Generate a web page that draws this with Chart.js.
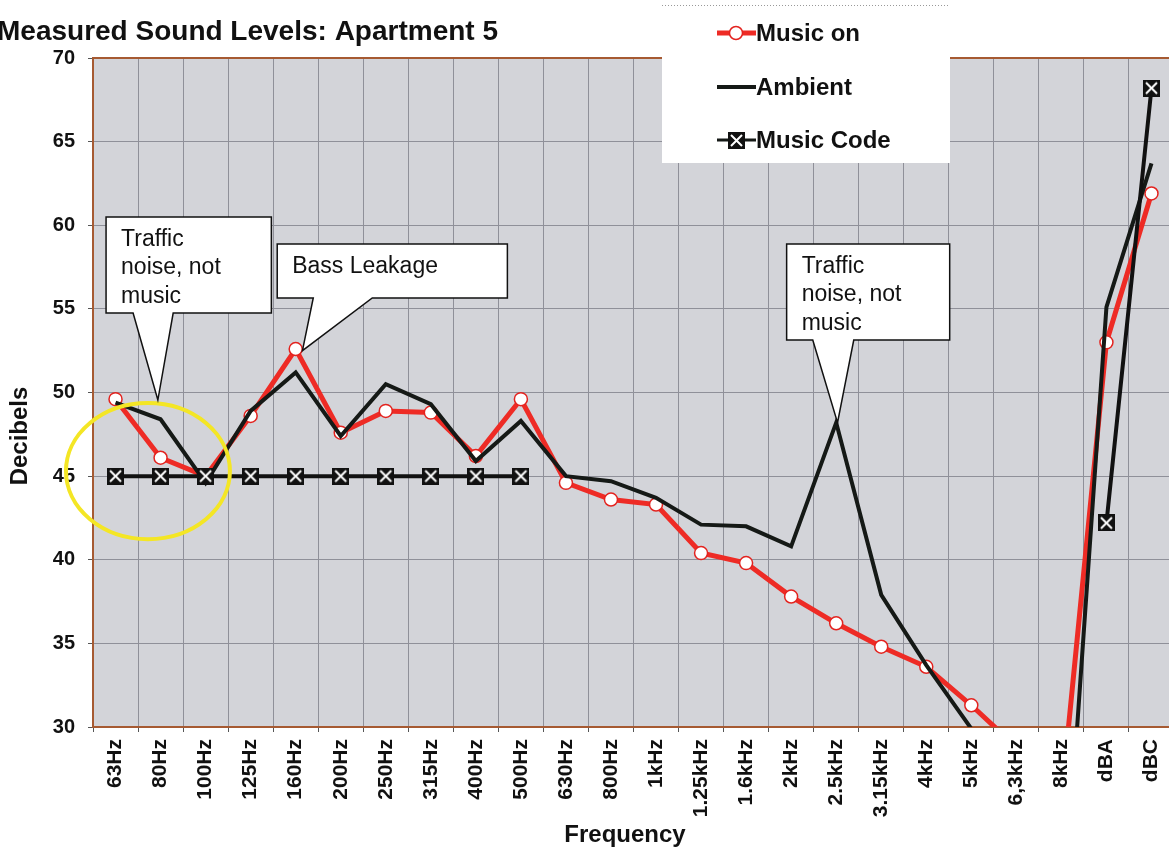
<!DOCTYPE html>
<html>
<head>
<meta charset="utf-8">
<title>Measured Sound Levels: Apartment 5</title>
<script src="https://cdn.jsdelivr.net/npm/chart.js@4.4.1/dist/chart.umd.min.js"></script>
<style>
  html, body { margin: 0; padding: 0; background: #fff; overflow: hidden; }
  #wrap { width: 1186px; height: 849px; }
</style>
</head>
<body>
<div id="wrap"><canvas id="chart" width="1186" height="849"></canvas></div>
<script>
// Data (dB)
const frequencies = ['63Hz', '80Hz', '100Hz', '125Hz', '160Hz', '200Hz', '250Hz', '315Hz', '400Hz', '500Hz',
  '630Hz', '800Hz', '1kHz', '1.25kHz', '1.6kHz', '2kHz', '2.5kHz', '3.15kHz', '4kHz', '5kHz', '6,3kHz', '8kHz', 'dBA', 'dBC'];
const musicOn = [49.6, 46.1, 45.0, 48.6, 52.6, 47.6, 48.9, 48.8, 46.2, 49.6,
  44.6, 43.6, 43.3, 40.4, 39.8, 37.8, 36.2, 34.8, 33.6, 31.3, 28.8, 25.7, 53.0, 61.9];
const ambient = [49.4, 48.4, 44.6, 48.9, 51.2, 47.4, 50.5, 49.3, 45.9, 48.3,
  45.0, 44.7, 43.7, 42.1, 42.0, 40.8, 48.2, 37.9, 33.7, 29.9, 24.0, 16.5, 55.1, 63.7];
const musicCode = [45, 45, 45, 45, 45, 45, 45, 45, 45, 45,
  null, null, null, null, null, null, null, null, null, null, null, null, 42.2, 68.2];
const yTicks = [30, 35, 40, 45, 50, 55, 60, 65, 70];

const FONT = '"Liberation Sans", Arial, sans-serif';

// callouts, in (category index, dB) units
const callouts = [
  { lines: ['Traffic', 'noise, not', 'music'], box: [-0.21, 60.5, 3.46, 54.75], base: [0.39, 1.28], tip: [0.94, 49.55] },
  { lines: ['Bass Leakage'], box: [3.59, 58.88, 8.7, 55.65], base: [4.39, 5.7], tip: [4.15, 52.5] },
  { lines: ['Traffic', 'noise, not', 'music'], box: [14.9, 58.88, 18.52, 53.14], base: [15.48, 16.39], tip: [16.03, 48.2] }
];

// black square with white cross for the Music Code series
function makeCodeMarker(size) {
  const c = document.createElement('canvas');
  c.width = size; c.height = size;
  const g = c.getContext('2d');
  g.fillStyle = '#111';
  g.fillRect(0, 0, size, size);
  g.strokeStyle = '#fff';
  g.lineWidth = 2;
  g.beginPath();
  g.moveTo(3, 3); g.lineTo(size - 3, size - 3);
  g.moveTo(size - 3, 3); g.lineTo(3, size - 3);
  g.stroke();
  return c;
}
const codeMarker = makeCodeMarker(17);

const decorations = {
  id: 'decorations',
  beforeDraw(chart) {
    const { ctx, chartArea: a } = chart;
    ctx.save();
    ctx.fillStyle = '#d3d4d9';
    ctx.fillRect(a.left, a.top, a.right - a.left, a.bottom - a.top);
    ctx.restore();
  },
  beforeDatasetsDraw(chart) {
    const { ctx, chartArea: a } = chart;
    ctx.save();
    ctx.strokeStyle = '#a65a32';
    ctx.lineWidth = 2;
    ctx.strokeRect(a.left, a.top, a.right - a.left, a.bottom - a.top);
    ctx.restore();
  },
  afterDatasetsDraw(chart) {
    const { ctx } = chart;
    const xs = chart.scales.x, ys = chart.scales.y;
    const px = v => xs.getPixelForValue(v);
    const py = v => ys.getPixelForValue(v);

    // yellow ring around the low end
    ctx.save();
    const cx = px(0.72), cy = py(45.3);
    ctx.strokeStyle = '#f4e625';
    ctx.lineWidth = 4;
    ctx.beginPath();
    ctx.ellipse(cx, cy, px(0.72 + 1.82) - cx, py(45.3 - 4.07) - cy, 0, 0, Math.PI * 2);
    ctx.stroke();
    ctx.restore();

    // callouts
    callouts.forEach(c => {
      const l = px(c.box[0]), t = py(c.box[1]), r = px(c.box[2]), b = py(c.box[3]);
      ctx.save();
      ctx.beginPath();
      ctx.moveTo(l, t);
      ctx.lineTo(r, t);
      ctx.lineTo(r, b);
      ctx.lineTo(px(c.base[1]), b);
      ctx.lineTo(px(c.tip[0]), py(c.tip[1]));
      ctx.lineTo(px(c.base[0]), b);
      ctx.lineTo(l, b);
      ctx.closePath();
      ctx.fillStyle = '#fff';
      ctx.fill();
      ctx.strokeStyle = '#111';
      ctx.lineWidth = 1.5;
      ctx.stroke();
      ctx.fillStyle = '#111';
      ctx.font = '23px ' + FONT;
      ctx.textBaseline = 'alphabetic';
      c.lines.forEach((s, i) => ctx.fillText(s, l + 15, t + 29 + i * 28.5));
      ctx.restore();
    });

    // legend box
    ctx.save();
    ctx.fillStyle = '#fff';
    ctx.fillRect(662, 5, 288, 158);
    ctx.strokeStyle = '#999';
    ctx.lineWidth = 1;
    ctx.setLineDash([1, 2]);
    ctx.beginPath();
    ctx.moveTo(662, 5.5); ctx.lineTo(950, 5.5);
    ctx.stroke();
    ctx.setLineDash([]);
    ctx.font = 'bold 24px ' + FONT;
    ctx.textBaseline = 'middle';
    ctx.fillStyle = '#111';
    const rows = [
      { label: 'Music on', y: 33 },
      { label: 'Ambient', y: 87 },
      { label: 'Music Code', y: 140 }
    ];
    // Music on
    ctx.strokeStyle = '#ee2b25';
    ctx.lineWidth = 5;
    ctx.beginPath(); ctx.moveTo(717, rows[0].y); ctx.lineTo(756, rows[0].y); ctx.stroke();
    ctx.beginPath(); ctx.arc(736, rows[0].y, 6.5, 0, Math.PI * 2);
    ctx.fillStyle = '#fff'; ctx.fill();
    ctx.lineWidth = 1.5; ctx.strokeStyle = '#e3231f'; ctx.stroke();
    // Ambient
    ctx.strokeStyle = '#151916';
    ctx.lineWidth = 4;
    ctx.beginPath(); ctx.moveTo(717, rows[1].y); ctx.lineTo(756, rows[1].y); ctx.stroke();
    // Music Code
    ctx.lineWidth = 3;
    ctx.beginPath(); ctx.moveTo(717, rows[2].y); ctx.lineTo(756, rows[2].y); ctx.stroke();
    ctx.drawImage(codeMarker, 728, rows[2].y - 8);
    ctx.fillStyle = '#111';
    rows.forEach(r => ctx.fillText(r.label, 756, r.y + 1));
    ctx.restore();
  },
  afterDraw(chart) {
    const { ctx } = chart;
    ctx.save();
    ctx.fillStyle = '#111';
    ctx.font = 'bold 28px ' + FONT;
    ctx.textBaseline = 'alphabetic';
    ctx.textAlign = 'left';
    ctx.fillText('Measured Sound Levels: Apartment 5', -3, 40);

    ctx.font = 'bold 24px ' + FONT;
    ctx.textAlign = 'center';
    ctx.fillText('Frequency', 625, 842);

    ctx.translate(20, 436);
    ctx.rotate(-Math.PI / 2);
    ctx.font = 'bold 24px ' + FONT;
    ctx.textBaseline = 'middle';
    ctx.fillText('Decibels', 0, 0);
    ctx.restore();
  }
};

const ctx = document.getElementById('chart').getContext('2d');
const chart = new Chart(ctx, {
  type: 'line',
  data: {
    labels: frequencies,
    datasets: [
      {
        label: 'Music on',
        data: musicOn,
        borderColor: '#ee2b25',
        borderWidth: 5,
        pointStyle: 'circle',
        pointRadius: 6.5,
        pointBackgroundColor: '#fff',
        pointBorderColor: '#e3231f',
        pointBorderWidth: 1.5,
        order: 2
      },
      {
        label: 'Ambient',
        data: ambient,
        borderColor: '#151916',
        borderWidth: 4,
        pointRadius: 0,
        order: 1
      },
      {
        label: 'Music Code',
        data: musicCode,
        borderColor: '#111',
        borderWidth: 4,
        pointStyle: codeMarker,
        pointRadius: 8,
        spanGaps: false,
        order: 0
      }
    ]
  },
  options: {
    responsive: false,
    animation: false,
    events: [],
    layout: { padding: { top: 58, right: 0, left: 0, bottom: 0 } },
    plugins: {
      legend: { display: false },
      tooltip: { enabled: false }
    },
    scales: {
      x: {
        type: 'category',
        offset: true,
        grid: { offset: true, color: '#8f9099', lineWidth: 1, tickLength: 5, tickColor: '#555' },
        border: { display: false },
        ticks: {
          autoSkip: false,
          minRotation: 90,
          maxRotation: 90,
          padding: 7,
          color: '#111',
          font: { family: FONT, size: 21, weight: 'bold' }
        },
        afterFit: s => { s.height = 122; }
      },
      y: {
        min: yTicks[0],
        max: yTicks[yTicks.length - 1],
        afterBuildTicks: s => { s.ticks = yTicks.map(v => ({ value: v })); },
        grid: { color: '#8f9099', lineWidth: 1, tickLength: 5, tickColor: '#555' },
        border: { display: false },
        ticks: {
          padding: 13,
          color: '#111',
          font: { family: FONT, size: 20, weight: 'bold' }
        },
        afterFit: s => { s.width = 93; }
      }
    }
  },
  plugins: [decorations]
});
</script>
</body>
</html>
